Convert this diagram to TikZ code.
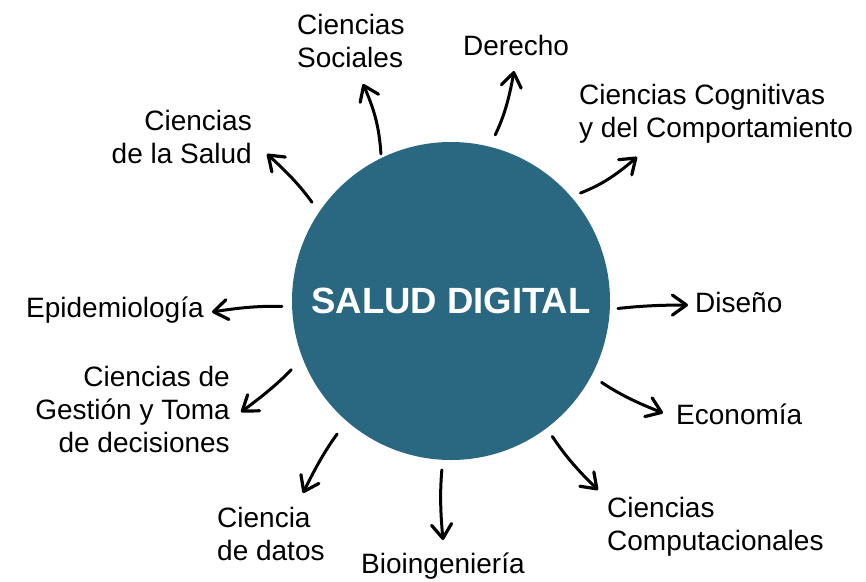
\documentclass[tikz,border=0pt]{standalone}
\usepackage{fontspec}
\setmainfont{Liberation Sans}
\usetikzlibrary{arrows.meta}
\definecolor{azulsalud}{RGB}{42,103,128}

\begin{document}
\begin{tikzpicture}[x=1pt,y=-1pt,
		disciplina/.style={inner sep=0pt,font=\fontsize{28}{33}\selectfont},
		flecha/.style={line width=3pt,line cap=round,-{Straight Barb[length=14pt,width=20pt,line width=3.2pt,round]},shorten <=10pt}]
			\useasboundingbox (0,0) rectangle (866,581);
			
			\node[circle,fill=azulsalud,minimum size=318pt,inner sep=0pt,text=white,font=\fontsize{36.5}{36.5}\selectfont\bfseries] (salud) at (451,301) {SALUD DIGITAL};
			
			\node[disciplina,anchor=north west,align=left] (soc) at (297,14) {Ciencias\\Sociales};
			\node[disciplina,anchor=base west] (der) at (463,55) {Derecho};
			\node[disciplina,anchor=north west,align=left] (cog) at (579,84) {Ciencias Cognitivas\\y del Comportamiento};
			\node[disciplina,anchor=north east,align=right] (sal) at (252,110) {Ciencias\\de la Salud};
			\node[disciplina,anchor=base west] (epi) at (26,317) {Epidemiología};
			\node[disciplina,anchor=north east,align=right] (ges) at (230,366) {Ciencias de\\Gestión y Toma\\de decisiones};
			\node[disciplina,anchor=north west,align=left] (dat) at (217,507) {Ciencia\\de datos};
			\node[disciplina,anchor=base west] (bio) at (361,573) {Bioingeniería};
			\node[disciplina,anchor=base west] (dis) at (695,312) {Diseño};
			\node[disciplina,anchor=base west] (eco) at (676,424) {Economía};
			\node[disciplina,anchor=north west,align=left] (comp) at (607,497) {Ciencias\\Computacionales};
			
			\coordinate (tSoc) at (363,84);
			\coordinate (tDer) at (514,71);
			\coordinate (tCog) at (637,157);
			\coordinate (tSal) at (267,154);
			\coordinate (tEpi) at (212,312);
			\coordinate (tGes) at (241,412);
			\coordinate (tDat) at (303,493);
			\coordinate (tBio) at (443,540);
			\coordinate (tDis) at (688,305);
			\coordinate (tEco) at (663,413);
			\coordinate (tComp) at (598,490);
			
			\draw[flecha,shorten <=4pt] (salud.116) to[bend right=10] (tSoc);
			\draw[flecha,shorten <=13pt] (salud.76) to[bend right=8] (tDer);
			\draw[flecha] (salud.41) to[bend right=10] (tCog);
			\draw[flecha,shorten <=12pt] (salud.146) to[bend right=6] (tSal);
			\draw[flecha] (salud.182) to[bend right=5] (tEpi);
			\draw[flecha,shorten <=16pt] (salud.201) to[bend left=5] (tGes);
			\draw[flecha,shorten <=16pt] (salud.229) to[bend right=5] (tDat);
			\draw[flecha] (salud.267) to[bend right=5] (tBio);
			\draw[flecha,shorten <=8pt] (salud.357) to[bend left=3] (tDis);
			\draw[flecha,shorten <=12pt] (salud.332) to[bend right=6] (tEco);
			\draw[flecha] (salud.307) to[bend right=6] (tComp);
		\end{tikzpicture}
\end{document}
